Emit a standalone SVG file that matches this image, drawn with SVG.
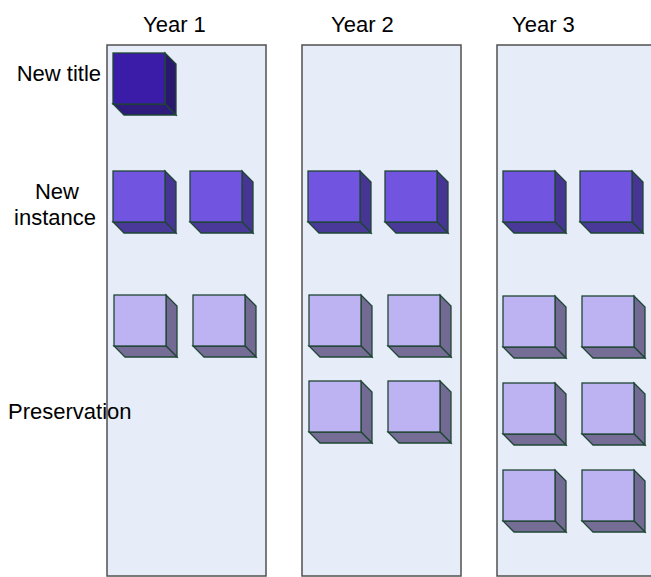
<svg xmlns="http://www.w3.org/2000/svg" xmlns:xlink="http://www.w3.org/1999/xlink" width="651" height="577" viewBox="0 0 651 577">
  <style>
    text { font-family: "Liberation Sans", Arial, sans-serif; font-size: 22px; fill: #000; }
    .panel { fill: #e6edf8; stroke: #505050; stroke-width: 1.5; }
    .edge { stroke: #1f4634; stroke-width: 1.3; stroke-linejoin: miter; }
    .front { fill: var(--front); }
    .side { fill: var(--side); }
    .base { fill: var(--base); }
    .dark { --front: #3a1ca8; --side: #2a186e; --base: #2f1b7c; }
    .mid { --front: #7154e0; --side: #463592; --base: #4b399a; }
    .light { --front: #bdb3f3; --side: #726a92; --base: #766d96; }
  </style>
  <defs>
    <!-- one box: front face with a right side and a bottom face -->
    <g id="box">
      <polygon class="side edge" points="52,0 63,11 63,62 52,51"/>
      <polygon class="base edge" points="0,51 52,51 63,62 11,62"/>
      <rect class="front edge" x="0" y="0" width="52" height="51"/>
    </g>
  </defs>

  <!-- year columns -->
  <g id="year1">
    <rect class="panel" x="107" y="45" width="159" height="531"/>
    <text x="143" y="32">Year 1</text>
  </g>
  <g id="year2">
    <rect class="panel" x="302" y="45" width="159" height="531"/>
    <text x="331" y="32">Year 2</text>
  </g>
  <g id="year3">
    <rect class="panel" x="497" y="45" width="160" height="531"/>
    <text x="512" y="32">Year 3</text>
  </g>

  <!-- row labels -->
  <g id="label-new-title"><text x="101" y="81" text-anchor="end">New title</text></g>
  <g id="label-new-instance">
    <text x="57" y="199" text-anchor="middle">New</text>
    <text x="55" y="225" text-anchor="middle">instance</text>
  </g>
  <g id="label-preservation"><text x="8" y="419">Preservation</text></g>

  <!-- year 1 boxes -->
  <g id="y1-title" class="dark"><use xlink:href="#box" x="113" y="53"/></g>
  <g id="y1-inst-a" class="mid"><use xlink:href="#box" x="113" y="171"/></g>
  <g id="y1-inst-b" class="mid"><use xlink:href="#box" x="190" y="171"/></g>
  <g id="y1-pres-a" class="light"><use xlink:href="#box" x="114" y="295"/></g>
  <g id="y1-pres-b" class="light"><use xlink:href="#box" x="193" y="295"/></g>

  <!-- year 2 boxes -->
  <g id="y2-inst-a" class="mid"><use xlink:href="#box" x="308" y="171"/></g>
  <g id="y2-inst-b" class="mid"><use xlink:href="#box" x="385" y="171"/></g>
  <g id="y2-pres-a" class="light"><use xlink:href="#box" x="309" y="295"/></g>
  <g id="y2-pres-b" class="light"><use xlink:href="#box" x="388" y="295"/></g>
  <g id="y2-pres-c" class="light"><use xlink:href="#box" x="309" y="381"/></g>
  <g id="y2-pres-d" class="light"><use xlink:href="#box" x="388" y="381"/></g>

  <!-- year 3 boxes -->
  <g id="y3-inst-a" class="mid"><use xlink:href="#box" x="503" y="171"/></g>
  <g id="y3-inst-b" class="mid"><use xlink:href="#box" x="580" y="171"/></g>
  <g id="y3-pres-a" class="light"><use xlink:href="#box" x="503" y="296"/></g>
  <g id="y3-pres-b" class="light"><use xlink:href="#box" x="582" y="296"/></g>
  <g id="y3-pres-c" class="light"><use xlink:href="#box" x="503" y="383"/></g>
  <g id="y3-pres-d" class="light"><use xlink:href="#box" x="582" y="383"/></g>
  <g id="y3-pres-e" class="light"><use xlink:href="#box" x="503" y="470"/></g>
  <g id="y3-pres-f" class="light"><use xlink:href="#box" x="582" y="470"/></g>
</svg>
